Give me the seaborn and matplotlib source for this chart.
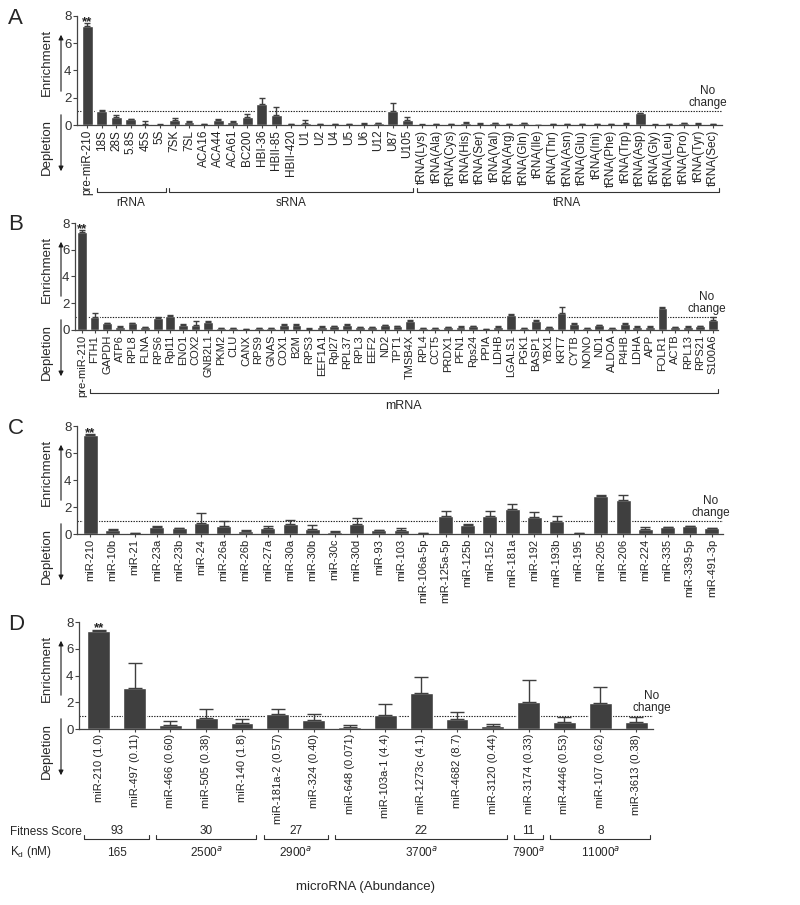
import numpy as np
import matplotlib
matplotlib.use('Agg')
import matplotlib.pyplot as plt
import matplotlib.transforms as mtrans
from matplotlib.patches import FancyArrowPatch
import seaborn as sns

# ---- panel A: non-coding RNAs ----
a_labels = ['pre-miR-210', '18S', '28S', '5.8S', '45S', '5S', '7SK', '7SL', 'ACA16', 'ACA44',
            'ACA61', 'BC200', 'HBI-36', 'HBII-85', 'HBII-420', 'U1', 'U2', 'U4', 'U5', 'U6',
            'U12', 'U87', 'U105', 'tRNA(Lys)', 'tRNA(Ala)', 'tRNA(Cys)', 'tRNA(His)', 'tRNA(Ser)',
            'tRNA(Val)', 'tRNA(Arg)', 'tRNA(Gln)', 'tRNA(Ile)', 'tRNA(Thr)', 'tRNA(Asn)', 'tRNA(Glu)',
            'tRNA(Ini)', 'tRNA(Phe)', 'tRNA(Trp)', 'tRNA(Asp)', 'tRNA(Gly)', 'tRNA(Leu)', 'tRNA(Pro)',
            'tRNA(Tyr)', 'tRNA(Sec)']
a_vals = [7.3, 1.05, 0.62, 0.44, 0.05, 0.03, 0.37, 0.22, 0.05, 0.38,
          0.22, 0.62, 1.55, 0.74, 0.06, 0.15, 0.07, 0.05, 0.06, 0.1,
          0.12, 1.0, 0.4, 0.03, 0.05, 0.05, 0.15, 0.1,
          0.12, 0.06, 0.12, 0.02, 0.06, 0.06, 0.07,
          0.04, 0.06, 0.1, 0.85, 0.03, 0.08, 0.12,
          0.1, 0.05]
a_err = [0.15, 0.04, 0.12, 0.03, 0.25, 0.02, 0.13, 0.04, 0.02, 0.07,
         0.06, 0.18, 0.4, 0.59, 0.02, 0.2, 0.02, 0.02, 0.02, 0.03,
         0.04, 0.6, 0.2, 0.02, 0.02, 0.02, 0.05, 0.03,
         0.03, 0.02, 0.03, 0.01, 0.02, 0.02, 0.02,
         0.02, 0.02, 0.03, 0.05, 0.02, 0.02, 0.03,
         0.03, 0.02]
a_groups = [('rRNA', 1, 5), ('sRNA', 6, 22), ('tRNA', 23, 43)]

# ---- panel B: mRNAs ----
b_labels = ['pre-miR-210', 'FTH1', 'GAPDH', 'ATP6', 'RPL8', 'FLNA', 'RPS6', 'Rpl11', 'ENO1', 'COX2',
            'GNB2L1', 'PKM2', 'CLU', 'CANX', 'RPS9', 'GNAS', 'COX1', 'B2M', 'RPS3', 'EEF1A1',
            'Rpl27', 'RPL37', 'RPL3', 'EEF2', 'ND2', 'TPT1', 'TMSB4X', 'RPL4', 'CCT5', 'PRDX1',
            'PFN1', 'Rps24', 'PPIA', 'LDHB', 'LGALS1', 'PGK1', 'BASP1', 'YBX1', 'KRT7', 'CYTB',
            'NONO', 'ND1', 'ALDOA', 'P4HB', 'LDHA', 'APP', 'FOLR1', 'ACTB', 'RPL13', 'RPS21', 'S100A6']
b_vals = [7.3, 0.97, 0.5, 0.25, 0.5, 0.22, 0.87, 1.07, 0.4, 0.37,
          0.57, 0.12, 0.12, 0.05, 0.12, 0.15, 0.4, 0.4, 0.1, 0.25,
          0.27, 0.4, 0.22, 0.2, 0.35, 0.3, 0.7, 0.15, 0.12, 0.2,
          0.25, 0.3, 0.05, 0.25, 1.15, 0.15, 0.7, 0.2, 1.3, 0.45,
          0.15, 0.35, 0.15, 0.45, 0.25, 0.25, 1.68, 0.2, 0.25, 0.3, 0.75]
b_err = [0.15, 0.27, 0.04, 0.03, 0.04, 0.03, 0.13, 0.07, 0.04, 0.28,
         0.13, 0.02, 0.02, 0.02, 0.02, 0.02, 0.04, 0.04, 0.02, 0.03,
         0.03, 0.04, 0.03, 0.03, 0.04, 0.03, 0.06, 0.02, 0.02, 0.03,
         0.03, 0.03, 0.02, 0.03, 0.05, 0.02, 0.06, 0.02, 0.4, 0.05,
         0.02, 0.04, 0.02, 0.05, 0.03, 0.03, 0.04, 0.02, 0.03, 0.03, 0.25]
b_groups = [('mRNA', 1, 50)]

# ---- panel C: abundant microRNAs ----
c_labels = ['miR-210', 'miR-10b', 'miR-21', 'miR-23a', 'miR-23b', 'miR-24', 'miR-26a', 'miR-26b',
            'miR-27a', 'miR-30a', 'miR-30b', 'miR-30c', 'miR-30d', 'miR-93', 'miR-103',
            'miR-106a-5p', 'miR-125a-5p', 'miR-125b', 'miR-152', 'miR-181a', 'miR-192', 'miR-193b',
            'miR-195', 'miR-205', 'miR-206', 'miR-224', 'miR-335', 'miR-339-5p', 'miR-491-3p']
c_vals = [7.3, 0.27, 0.05, 0.54, 0.43, 0.82, 0.57, 0.2, 0.42, 0.72, 0.4, 0.18, 0.75, 0.27, 0.27,
          0.05, 1.36, 0.7, 1.36, 1.85, 1.26, 1.0, 0.07, 2.8, 2.55, 0.4, 0.52, 0.57, 0.45]
c_err = [0.08, 0.13, 0.05, 0.06, 0.05, 0.73, 0.38, 0.12, 0.15, 0.35, 0.27, 0.04, 0.4, 0.05, 0.18,
         0.02, 0.32, 0.05, 0.32, 0.4, 0.34, 0.33, 0.03, 0.1, 0.35, 0.1, 0.03, 0.03, 0.03]

# ---- panel D: predicted binders ----
d_labels = ['miR-210 (1.0)', 'miR-497 (0.11)', 'miR-466 (0.60)', 'miR-505 (0.38)', 'miR-140 (1.8)',
            'miR-181a-2 (0.57)', 'miR-324 (0.40)', 'miR-648 (0.071)', 'miR-103a-1 (4.4)',
            'miR-1273c (4.1)', 'miR-4682 (8.7)', 'miR-3120 (0.44)', 'miR-3174 (0.33)',
            'miR-4446 (0.53)', 'miR-107 (0.62)', 'miR-3613 (0.38)']
d_vals = [7.3, 3.05, 0.3, 0.8, 0.42, 1.12, 0.67, 0.17, 1.07, 2.72, 0.75, 0.25, 2.05, 0.5, 1.95, 0.52]
d_err = [0.08, 1.9, 0.3, 0.67, 0.3, 0.4, 0.45, 0.13, 0.83, 1.2, 0.5, 0.15, 1.6, 0.4, 1.2, 0.35]
fitness = ['93', '30', '27', '22', '11', '8']
kd = ['165', '2500$^a$', '2900$^a$', '3700$^a$', '7900$^a$', '11000$^a$']
d_groups = [(0, 1), (2, 4), (5, 6), (7, 11), (12, 12), (13, 15)]

sns.set_theme(style='ticks')
plt.rcParams['font.family'] = ['Liberation Sans', 'DejaVu Sans']
plt.rcParams['axes.edgecolor'] = '#444444'
plt.rcParams['xtick.color'] = '#444444'
plt.rcParams['ytick.color'] = '#444444'

W, H = 800, 905
fig = plt.figure(figsize=(W / 100, H / 100), dpi=100)
BAR = '#3f3f3f'


def fx(x):
    return x / W


def fy(y):
    return 1 - y / H


def panel(labels, vals, err, l, t, r, b, width, xlo, xhi, fs, capsize, letter, nc_x):
    ax = fig.add_axes([fx(l), fy(b), fx(r - l), (b - t) / H])
    sns.barplot(x=labels, y=vals, color=BAR, saturation=1, width=width, errorbar=None, ax=ax)
    pos = np.arange(len(vals))
    ax.errorbar(pos, vals, yerr=[np.zeros(len(err)), err], fmt='none', ecolor=BAR,
                elinewidth=1, capsize=capsize, capthick=1)
    ax.axhline(1, color='k', lw=0.8, ls=(0, (1.2, 1.2)), zorder=0)
    ax.set_ylim(0, 8)
    ax.set_xlim(xlo, len(vals) - 1 + xhi)
    ax.set_yticks([0, 2, 4, 6, 8])
    ax.tick_params(axis='y', labelsize=9.5, length=3, width=0.8, pad=1, labelcolor='#333333')
    ax.tick_params(axis='x', labelsize=fs, length=2.5, width=0.8, pad=1, labelcolor='#222222',
                   labelrotation=90)
    for s in ['top', 'right']:
        ax.spines[s].set_visible(False)
    for s in ['left', 'bottom']:
        ax.spines[s].set_linewidth(0.9)
    ax.set_xlabel('')
    ax.set_ylabel('')
    # significance marks
    ax.text(0, vals[0] + err[0] - 0.1, '**', ha='center', va='baseline', fontsize=9.5,
            fontweight='bold', color='#222222')
    # enrichment / depletion labels
    fig.text(fx(47), fy(t + 46), 'Enrichment', rotation=90, ha='center', va='center', fontsize=9.5)
    fig.text(fx(47), fy(b + 22), 'Depletion', rotation=90, ha='center', va='center', fontsize=9.5)
    fig.add_artist(FancyArrowPatch((fx(61), fy(b - 31)), (fx(61), fy(t + 16)), transform=fig.transFigure,
                                   arrowstyle='-|>', mutation_scale=7, color='k', lw=0.8))
    fig.add_artist(FancyArrowPatch((fx(61), fy(b - 13)), (fx(61), fy(b + 49)), transform=fig.transFigure,
                                   arrowstyle='-|>', mutation_scale=7, color='k', lw=0.8))
    fig.text(fx(8), fy(t + 2), letter, fontsize=16, ha='left', va='center')
    y1 = b - (b - t) / 8
    fig.text(fx(nc_x), fy(y1 - 20), 'No', fontsize=8.5, ha='center', va='center')
    fig.text(fx(nc_x), fy(y1 - 8), 'change', fontsize=8.5, ha='center', va='center')
    return ax


def bracket(ax, x0, x1, y, tick=4):
    tr = mtrans.blended_transform_factory(ax.transData, fig.transFigure)
    ax.plot([x0, x0, x1, x1], [fy(y - tick), fy(y), fy(y), fy(y - tick)], color='#333333',
            lw=0.8, transform=tr, clip_on=False)


axA = panel(a_labels, a_vals, a_err, 77, 16, 722, 125, 0.74, -0.7, 0.62, 8.5, 2.5, 'A', 708)
for name, i0, i1 in a_groups:
    bracket(axA, i0 - 0.35, i1 + 0.4, 192)
    axA.text((i0 + i1) / 2, fy(203), name, fontsize=8.5, ha='center', va='center',
             transform=mtrans.blended_transform_factory(axA.transData, fig.transFigure))

axB = panel(b_labels, b_vals, b_err, 75, 223, 718, 330, 0.78, -0.55, 0.4, 8, 2.5, 'B', 707)
for name, i0, i1 in b_groups:
    bracket(axB, i0 - 0.4, i1 + 0.4, 393)
    axB.text((i0 + i1) / 2, fy(406), name, fontsize=9, ha='center', va='center',
             transform=mtrans.blended_transform_factory(axB.transData, fig.transFigure))

axC = panel(c_labels, c_vals, c_err, 77, 426, 723, 534, 0.68, -0.6, 0.5, 8, 3.5, 'C', 711)

axD = panel(d_labels, d_vals, d_err, 79, 622, 653, 729, 0.64, -0.55, 0.47, 8, 5, 'D', 652)
trD = mtrans.blended_transform_factory(axD.transData, fig.transFigure)
fig.text(fx(10), fy(832), 'Fitness Score', fontsize=8.5, ha='left', va='center')
fig.text(fx(10), fy(852), 'K$_\\mathregular{d}$ (nM)', fontsize=8.5, ha='left', va='center')
for (i0, i1), fs_, k in zip(d_groups, fitness, kd):
    bracket(axD, i0 - 0.4, i1 + 0.4, 839)
    axD.text((i0 + i1) / 2, fy(831), fs_, fontsize=8.5, ha='center', va='center', transform=trD)
    axD.text((i0 + i1) / 2, fy(853), k, fontsize=8.5, ha='center', va='center', transform=trD)
fig.text(fx(366), fy(887), 'microRNA (Abundance)', fontsize=9.5, ha='center', va='center')

fig.savefig('out.png', dpi=100)
